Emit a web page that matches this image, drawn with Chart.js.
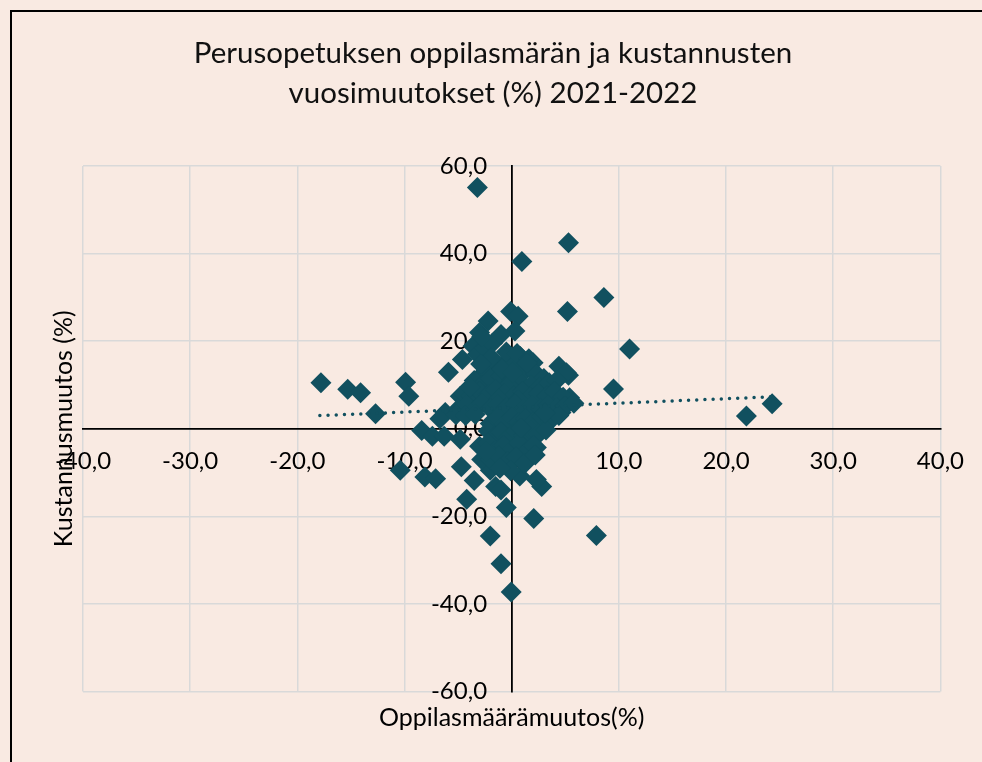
<!DOCTYPE html>
<html><head><meta charset="utf-8">
<script src="https://cdn.jsdelivr.net/npm/chart.js@4"></script>
<style>
html,body{margin:0;padding:0;background:#F9EAE2;overflow:hidden;width:982px;height:762px;}
#frame{position:absolute;left:10px;top:10px;width:1100px;height:900px;border:2px solid #000;box-sizing:border-box;}
#wrap{position:absolute;left:0;top:0;width:982px;height:762px;}
</style></head><body>
<div id="frame"></div>
<div id="wrap"><canvas id="c" width="982" height="762"></canvas></div>
<script>
const titleLines = ['Perusopetuksen oppilasmärän ja kustannusten', 'vuosimuutokset (%) 2021-2022'];
const xAxisTitle = 'Oppilasmäärämuutos(%)';
const yAxisTitle = 'Kustannusmuutos (%)';
const xTickLabels = ['-40,0','-30,0','-20,0','-10,0','0,0','10,0','20,0','30,0','40,0'];
const yTickLabels = ['-60,0','-40,0','-20,0','0,0','20,0','40,0','60,0'];

// Outlying municipalities: pupil-count change (%) and cost change (%)
const outlierPupils = [
  -3.2, 5.3, 0.95, 8.6, 5.2, 11.0, 9.5, 21.9, 24.3, -17.8,
  -15.3, -14.1, -12.7, -9.9, -9.6, -5.9, -4.6, -2.2, -0.1, 0.6,
  0.3, 4.4, 5.3, 5.4, 4.6, -8.4, -7.4, -6.3, -6.2, -6.7,
  -10.4, -8.1, -7.1, -4.7, -3.5, -4.2, -2.0, -1.0, -0.05, -0.5,
  2.06, 7.9, -2.0, -1.5, -1.0, 2.8, 2.3, 0.76, -4.8, 2.6,
  2.3, -2.8, -3.6, -3.0, -4.8, 5.1, 2.0, 0.8
];
const outlierCosts = [
  55.1, 42.5, 38.2, 30.0, 26.8, 18.2, 9.1, 2.9, 5.7, 10.5,
  9.0, 8.2, 3.4, 10.6, 7.4, 12.9, 15.8, 24.6, 26.8, 25.7,
  22.3, 14.3, 12.2, 7.1, 3.7, -0.4, -1.7, -1.7, 3.7, 2.3,
  -9.5, -11.0, -11.4, -8.7, -11.8, -16.1, -24.5, -30.8, -37.3, -18.0,
  -20.5, -24.4, -9.5, -13.2, -14.0, -13.2, -11.6, -10.8, -2.4, -0.9,
  -4.3, -7.0, 18.9, 22.0, 7.4, 12.8, 15.1, 16.5
];
// Dense central cluster
const clusterPupils = [
  -1.5, -0.5, 0.5, 1.2, -2.5, 2.3, 3.0,
  -3.5, -2.8, -2.0, -1.0, 0.0, 0.8, 1.8, 2.6, 3.5, 4.2, -0.3,
  -4.5, -3.8, -3.0, -2.2, -1.5, -0.7, 0.2, 1.0, 1.7, 2.5, 3.3, 4.0, 4.8, -1.2, 0.6,
  -5.0, -4.2, -3.5, -2.8, -2.0, -1.3, -0.5, 0.3, 1.1, 1.9, 2.7, 3.4, 4.2, 5.0, 5.8,
  -5.2, -4.3, -3.4, -2.0, -1.3, -0.7, 0.0, 0.6, 1.3, 2.0, 2.8, 3.6, 4.4,
  -2.2, -1.6, -1.0, -0.3, 0.4, 1.1, 1.8, 2.5, 3.2,
  -3.0, -2.2, -1.5, -0.8, 0.0, 0.7, 1.4, 2.0,
  -2.0, -1.2, -0.4, 0.4, 1.2,
  -3.2, -2.5, -1.8, -1.0, -0.5, -2.8, 0.5, 1.6,
  -1.9, -0.9, 0.1, 1.4, -2.9, -3.9, 3.1, 0.9, -0.1, -1.1, 2.2, -2.4
];
const clusterCosts = [
  14.5, 15.5, 14.0, 13.2, 13.0, 12.5, 11.5,
  11.0, 10.0, 11.5, 12.0, 11.0, 10.5, 10.0, 9.5, 10.5, 11.0, 9.8,
  8.0, 7.5, 8.5, 7.8, 9.0, 8.0, 7.5, 8.5, 7.2, 8.0, 7.5, 8.5, 7.2, 6.8, 6.5,
  4.5, 5.5, 4.2, 5.8, 4.6, 5.5, 4.8, 5.6, 4.5, 5.3, 4.7, 5.5, 4.8, 5.2, 5.8,
  3.2, 3.0, 3.3, 1.2, 2.6, 1.0, 2.6, 1.4, 2.4, 1.6, 2.8, 1.8, 3.0,
  -0.5, -1.8, -0.8, -2.0, -0.5, -1.6, -0.4, -1.2, -0.3,
  -4.0, -3.2, -5.0, -3.8, -4.8, -3.3, -5.2, -3.8,
  -7.0, -6.2, -7.5, -6.5, -8.0,
  17.0, 18.5, 19.5, 21.5, 17.5, 21.0, 17.2, 16.0,
  16.2, 13.6, 12.8, 15.0, 14.8, 9.6, 3.6, 0.2, -9.6, -9.0, -6.0, -5.2
];
// Linear trendline endpoints
const trendPupils = [-17.9, 24.3];
const trendCosts = [3.0, 7.3];

const MARK = '#11505F';
const FONT = 'Lato';

const points = outlierPupils.map((x, i) => ({x, y: outlierCosts[i]}))
  .concat(clusterPupils.map((x, i) => ({x, y: clusterCosts[i]})));
const trend = trendPupils.map((x, i) => ({x, y: trendCosts[i]}));

const tickFont = {family: FONT, size: 24};

new Chart(document.getElementById('c'), {
  type: 'scatter',
  data: {
    datasets: [
      {type: 'line', data: trend, showLine: true, borderColor: MARK, borderWidth: 3.5,
       borderDash: [0, 8.2], borderCapStyle: 'round', pointRadius: 0, fill: false,
       xAxisID: 'x', yAxisID: 'y', order: 0},
      {data: points, pointStyle: 'rectRot', pointRadius: 10.5, pointHoverRadius: 10.5,
       backgroundColor: MARK, borderColor: MARK, borderWidth: 0,
       xAxisID: 'x', yAxisID: 'y', order: 1}
    ]
  },
  options: {
    responsive: false, animation: false, devicePixelRatio: 1,
    layout: {padding: {left: 45, right: 41, top: 0, bottom: 25}},
    plugins: {
      legend: {display: false}, tooltip: {enabled: false},
      title: {display: true, text: titleLines, color: '#111',
        font: {family: FONT, size: 29.5, weight: 'normal', lineHeight: 1.356},
        padding: {top: 33, bottom: 53}}
    },
    scales: {
      x: {type: 'linear', min: -40, max: 40, position: {y: 0}, z: 0,
          ticks: {display: false, stepSize: 10},
          grid: {color: '#D9D9D9', lineWidth: 1.5, drawTicks: false},
          border: {display: true, color: '#000', width: 1.8}},
      y: {type: 'linear', min: -60, max: 60, position: {x: 0}, z: 0,
          ticks: {display: false, stepSize: 20},
          grid: {color: '#D9D9D9', lineWidth: 1.5, drawTicks: false},
          border: {display: true, color: '#000', width: 1.8}},
      xt: {type: 'linear', axis: 'x', min: -40, max: 40, position: {y: 0}, z: 1,
          grid: {display: false, drawTicks: false}, border: {display: false},
          ticks: {stepSize: 10, font: tickFont, color: '#000', padding: 18, maxRotation: 0,
                  autoSkip: false, callback: (v, i) => xTickLabels[i]}},
      yt: {type: 'linear', axis: 'y', min: -60, max: 60, position: {x: -2.3}, z: 1,
          grid: {display: false, drawTicks: false}, border: {display: false},
          ticks: {stepSize: 20, font: tickFont, color: '#000', padding: 0,
                  autoSkip: false, callback: (v, i) => yTickLabels[i]}},
      x2: {type: 'linear', axis: 'x', position: 'bottom', min: 0, max: 1,
          ticks: {display: false}, grid: {display: false, drawTicks: false}, border: {display: false},
          title: {display: true, text: xAxisTitle, color: '#000',
                  font: {family: FONT, size: 25, lineHeight: 1.2}, padding: {top: 11.5, bottom: 4}}},
      y2: {type: 'linear', axis: 'y', position: 'left', min: 0, max: 1,
          ticks: {display: false}, grid: {display: false, drawTicks: false}, border: {display: false},
          title: {display: true, text: yAxisTitle, color: '#000',
                  font: {family: FONT, size: 25, lineHeight: 1.2}, padding: {top: 4, bottom: 4}}}
    }
  }
});
</script>
</body></html>
